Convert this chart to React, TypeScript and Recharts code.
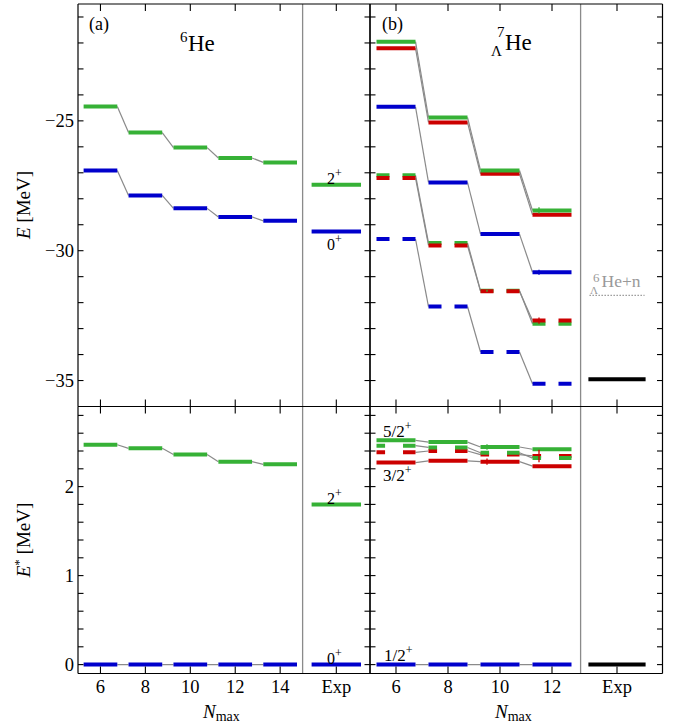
import React from "react";
import { LineChart, Line, XAxis, YAxis, ReferenceLine } from "recharts";

const W = 695;
const H = 724;
const FONT = "'Liberation Serif', 'Times New Roman', serif";

const GREEN = "#36b136";
const BLUE = "#0000cc";
const RED = "#cc0000";
const GRAY = "#8a8a8a";

// ---------------------------------------------------------------------------
// Data (MeV)
// ---------------------------------------------------------------------------

const NMAX_A = [6, 8, 10, 12, 14];
const NMAX_B = [6, 8, 10, 12];
const EXP_A = 16.5;
const EXP_B = 14.5;

// 6He total energies
const HE6_0P = [-26.91, -27.87, -28.37, -28.7, -28.85];
const HE6_2P = [-24.45, -25.45, -26.03, -26.43, -26.6];
const HE6_EXP_0P = -29.26;
const HE6_EXP_2P = -27.46;

// 6He excitation energies
const HE6_EX_0P = [0, 0, 0, 0, 0];
const HE6_EX_2P = [2.47, 2.43, 2.36, 2.28, 2.25];
const HE6_EXP_EX_0P = 0;
const HE6_EXP_EX_2P = 1.8;

// 7LHe total energies (solid / dashed sets)
const L7_12_S = [-24.46, -27.37, -29.36, -30.83];
const L7_12_D = [-29.55, -32.15, -33.9, -35.12];
const L7_52_S = [-21.95, -24.87, -26.91, -28.45];
const L7_32_S = [-22.2, -25.06, -27.04, -28.62];
const L7_52_D = [-27.09, -29.7, -31.54, -32.81];
const L7_32_D = [-27.2, -29.8, -31.56, -32.69];
const L7_EXP = -34.95;
const L7_THRESHOLD = -31.72;

// extrapolation uncertainties (0 = none)
const L7_UNC_12_S = [0, 0, 0, 0.1];
const L7_UNC_52_S = [0, 0, 0, 0.12];
const L7_UNC_32_D = [0, 0.05, 0, 0.12];
const L7_UNC_52_D = [0, 0, 0.04, 0];

// 7LHe excitation energies
const L7_EX_12 = [0, 0, 0, 0];
const L7_EX_52_S = [2.52, 2.5, 2.445, 2.42];
const L7_EX_52_D = [2.46, 2.44, 2.38, 2.32];
const L7_EX_32_D = [2.385, 2.4, 2.36, 2.345];
const L7_EX_32_S = [2.27, 2.29, 2.28, 2.23];
const L7_EX_EXP = 0;
const L7_EX_UNC_52_S = [0, 0, 0.03, 0];
const L7_EX_UNC_32_S = [0, 0, 0.035, 0];
const L7_EX_UNC_32_D = [0, 0, 0, 0.07];

// tick lists
const X_TICKS_A = [6, 8, 10, 12, 14, EXP_A];
const X_TICKS_B = [6, 8, 10, 12, EXP_B];
const Y_TICKS_TOP = [-35, -34, -33, -32, -31, -30, -29, -28, -27, -26, -25, -24, -23, -22, -21];
const Y_TICKS_BOT = [0, 0.2, 0.4, 0.6, 0.8, 1, 1.2, 1.4, 1.6, 1.8, 2, 2.2, 2.4, 2.6, 2.8];

// ---------------------------------------------------------------------------
// Helpers
// ---------------------------------------------------------------------------

const HW = 0.75; // half width of a calculated level
const HW_EXP = 1.1;

type Chain = { n: number[]; e: number[]; color: string; dashed?: boolean; unc?: number[] };
type Exp = { x: number; e: number; color: string; dash?: string; hw?: number; sw?: number };
type Box = { left: number; top: number; right: number; bottom: number };

const fmtY = (v: number) => (v < 0 ? "\u2212" + Math.abs(v) : String(v));

function renderTick(side: "left" | "right" | "top" | "bottom", len: number, label?: (v: number) => string | null) {
  return (props: any) => {
    const { x, y, payload } = props;
    const v = payload.value;
    let x2 = x;
    let y2 = y;
    if (side === "left") x2 = x + len;
    else if (side === "right") x2 = x - len;
    else if (side === "bottom") y2 = y - len;
    else y2 = y + len;
    const text = label ? label(v) : null;
    return (
      <g>
        <line x1={x} y1={y} x2={x2} y2={y2} stroke="#000" strokeWidth={1.1} />
        {text != null &&
          (side === "left" ? (
            <text x={x - 4} y={y + 6} textAnchor="end" fontFamily={FONT} fontSize={18.5} fill="#000">
              {text}
            </text>
          ) : (
            <text x={x} y={y + 19.5} textAnchor="middle" fontFamily={FONT} fontSize={18.5} fill="#000">
              {text}
            </text>
          ))}
      </g>
    );
  };
}

interface PanelProps {
  box: Box;
  xDomain: [number, number];
  yDomain: [number, number];
  xTicks: number[];
  yTicks: number[];
  xLabel?: (v: number) => string | null;
  yLabel?: (v: number) => string | null;
  divider: number;
  chains: Chain[];
  exps: Exp[];
  // pieces of a dashed level, as offsets from Nmax
  pieces: [number, number][];
}

const AXIS = { stroke: "#000", strokeWidth: 1.2 };

function Panel(p: PanelProps) {
  const margin = { left: p.box.left, top: p.box.top, right: W - p.box.right, bottom: H - p.box.bottom };
  const common = { type: "number" as const, allowDataOverflow: true, interval: 0 as const, mirror: true, tickLine: false, tickSize: 0, tickMargin: 0, axisLine: AXIS };
  const full: [number, number][] = [[-HW, HW]];
  return (
    <div style={{ position: "absolute", left: 0, top: 0 }}>
      <LineChart width={W} height={H} margin={margin}>
        <XAxis xAxisId="b" orientation="bottom" dataKey="x" domain={p.xDomain} ticks={p.xTicks} tick={renderTick("bottom", 7, p.xLabel)} {...common} />
        <XAxis xAxisId="t" orientation="top" dataKey="x" domain={p.xDomain} ticks={p.xTicks} tick={renderTick("top", 7)} {...common} />
        <YAxis yAxisId="l" orientation="left" domain={p.yDomain} ticks={p.yTicks} tick={renderTick("left", 5.5, p.yLabel)} {...common} />
        <YAxis yAxisId="r" orientation="right" domain={p.yDomain} ticks={p.yTicks} tick={renderTick("right", 5.5)} {...common} />
        <ReferenceLine xAxisId="b" yAxisId="l" x={p.divider} stroke={GRAY} strokeWidth={1.3} />
        {/* thin connectors from the end of one level to the start of the next */}
        {p.chains.flatMap((c, ci) =>
          c.n.slice(0, -1).map((n, i) => (
            <Line
              key={"c" + ci + "-" + i}
              xAxisId="b"
              yAxisId="l"
              data={[
                { x: n + HW, y: c.e[i] },
                { x: c.n[i + 1] - HW, y: c.e[i + 1] },
              ]}
              dataKey="y"
              stroke={GRAY}
              strokeWidth={1.2}
              dot={false}
              activeDot={false}
              isAnimationActive={false}
            />
          ))
        )}
        {p.chains.flatMap((c, ci) =>
          c.n.flatMap((n, i) =>
            (c.dashed ? p.pieces : full).map(([a, b], k) => (
              <Line
                key={"l" + ci + "-" + i + "-" + k}
                xAxisId="b"
                yAxisId="l"
                data={[
                  { x: n + a, y: c.e[i] },
                  { x: n + b, y: c.e[i] },
                ]}
                dataKey="y"
                stroke={c.color}
                strokeWidth={4}
                dot={false}
                activeDot={false}
                isAnimationActive={false}
              />
            ))
          )
        )}
        {p.chains.flatMap((c, ci) =>
          c.n
            .map((n, i) => ({ n, i }))
            .filter(({ i }) => c.unc && c.unc[i] > 0)
            .map(({ n, i }) => (
              <Line
                key={"u" + ci + "-" + i}
                xAxisId="b"
                yAxisId="l"
                data={[
                  { x: n - 0.5, y: c.e[i] - (c.unc as number[])[i] },
                  { x: n - 0.5, y: c.e[i] + (c.unc as number[])[i] },
                ]}
                dataKey="y"
                stroke={c.color}
                strokeWidth={1.3}
                dot={false}
                activeDot={false}
                isAnimationActive={false}
              />
            ))
        )}
        {p.exps.map((x, i) => (
          <Line
            key={"e" + i}
            xAxisId="b"
            yAxisId="l"
            data={[
              { x: x.x - (x.hw ?? HW_EXP), y: x.e },
              { x: x.x + (x.hw ?? HW_EXP), y: x.e },
            ]}
            dataKey="y"
            stroke={x.color}
            strokeWidth={x.sw ?? 4}
            strokeDasharray={x.dash}
            dot={false}
            activeDot={false}
            isAnimationActive={false}
          />
        ))}
      </LineChart>
    </div>
  );
}

function Annotations() {
  const sup = { fontSize: 12 };
  return (
    <svg width={W} height={H} style={{ position: "absolute", left: 0, top: 0, pointerEvents: "none" }} fontFamily={FONT} fill="#000">
      <text x={89} y={30} fontSize={18}>(a)</text>
      <text x={382} y={30} fontSize={18}>(b)</text>
      <text fontSize={23}>
        <tspan x={180} y={42} fontSize={15}>6</tspan>
        <tspan x={188} y={51}>He</tspan>
      </text>
      <text fontSize={23}>
        <tspan x={497} y={37} fontSize={15}>7</tspan>
        <tspan x={491} y={56} fontSize={15}>Λ</tspan>
        <tspan x={505} y={50}>He</tspan>
      </text>

      <text x={327} y={183.5} fontSize={16}>2<tspan {...sup} dy={-7}>+</tspan></text>
      <text x={327} y={250} fontSize={16}>0<tspan {...sup} dy={-7}>+</tspan></text>
      <text x={327} y={503.5} fontSize={16}>2<tspan {...sup} dy={-7}>+</tspan></text>
      <text x={327} y={663.5} fontSize={16}>0<tspan {...sup} dy={-7}>+</tspan></text>

      <text x={383} y={436.5} fontSize={17}>5/2<tspan {...sup} dy={-7}>+</tspan></text>
      <text x={383} y={480.5} fontSize={17}>3/2<tspan {...sup} dy={-7}>+</tspan></text>
      <text x={384} y={660.5} fontSize={17}>1/2<tspan {...sup} dy={-7}>+</tspan></text>

      <g fill="#999">
        <text x={593} y={281.7} fontSize={13}>6</text>
        <text x={590} y={294} fontSize={11}>Λ</text>
        <text x={601.5} y={286.7} fontSize={17.5}>He+n</text>
      </g>

      <text transform="translate(30,205) rotate(-90)" textAnchor="middle" fontSize={19}>
        <tspan fontStyle="italic">E</tspan> [MeV]
      </text>
      <text transform="translate(30,540) rotate(-90)" textAnchor="middle" fontSize={19}>
        <tspan fontStyle="italic">E</tspan>
        <tspan fontSize={13} dy={-7}>*</tspan>
        <tspan dy={7}> [MeV]</tspan>
      </text>

      <text x={203} y={717.5} fontSize={19}>
        <tspan fontStyle="italic">N</tspan>
        <tspan fontSize={14} dy={3}>max</tspan>
      </text>
      <text x={495} y={717.5} fontSize={19}>
        <tspan fontStyle="italic">N</tspan>
        <tspan fontSize={14} dy={3}>max</tspan>
      </text>
    </svg>
  );
}

export default function App() {
  const boxATop: Box = { left: 78, top: 4, right: 370, bottom: 406.5 };
  const boxBTop: Box = { left: 370, top: 4, right: 662.5, bottom: 406.5 };
  const boxABot: Box = { left: 78, top: 406.5, right: 370, bottom: 673.5 };
  const boxBBot: Box = { left: 370, top: 406.5, right: 662.5, bottom: 673.5 };
  const xLabA = (v: number) => (v === EXP_A ? "Exp" : String(v));
  const xLabB = (v: number) => (v === EXP_B ? "Exp" : String(v));
  const yLabTop = (v: number) => (v % 5 === 0 ? fmtY(v) : null);
  const yLabBot = (v: number) => (Number.isInteger(v) ? fmtY(v) : null);

  return (
    <div style={{ position: "absolute", left: 0, top: 0, width: W, height: H, background: "#fff" }}>
      <Panel
        box={boxATop}
        xDomain={[5, 18]}
        yDomain={[-36, -20.5]}
        xTicks={X_TICKS_A}
        yTicks={Y_TICKS_TOP}
        yLabel={yLabTop}
        divider={15}
        pieces={[[-0.75, -0.25], [0.25, 0.75]]}
        chains={[
          { n: NMAX_A, e: HE6_2P, color: GREEN },
          { n: NMAX_A, e: HE6_0P, color: BLUE },
        ]}
        exps={[
          { x: EXP_A, e: HE6_EXP_2P, color: GREEN },
          { x: EXP_A, e: HE6_EXP_0P, color: BLUE },
        ]}
      />
      <Panel
        box={boxBTop}
        xDomain={[5, 16.25]}
        yDomain={[-36, -20.5]}
        xTicks={X_TICKS_B}
        yTicks={Y_TICKS_TOP}
        divider={13.1}
        pieces={[[-0.75, -0.25], [0.25, 0.75]]}
        chains={[
          { n: NMAX_B, e: L7_12_S, color: BLUE, unc: L7_UNC_12_S },
          { n: NMAX_B, e: L7_12_D, color: BLUE, dashed: true },
          { n: NMAX_B, e: L7_32_S, color: RED },
          { n: NMAX_B, e: L7_52_S, color: GREEN, unc: L7_UNC_52_S },
          { n: NMAX_B, e: L7_52_D, color: GREEN, dashed: true, unc: L7_UNC_52_D },
          { n: NMAX_B, e: L7_32_D, color: RED, dashed: true, unc: L7_UNC_32_D },
        ]}
        exps={[
          { x: EXP_B, e: L7_THRESHOLD, color: "#999", dash: "1.5 1.5", sw: 1.3, hw: 1.06 },
          { x: EXP_B, e: L7_EXP, color: "#000" },
        ]}
      />
      <Panel
        box={boxABot}
        xDomain={[5, 18]}
        yDomain={[-0.1, 2.9]}
        xTicks={X_TICKS_A}
        yTicks={Y_TICKS_BOT}
        xLabel={xLabA}
        yLabel={yLabBot}
        divider={15}
        pieces={[[-0.75, -0.25], [0.25, 0.75]]}
        chains={[
          { n: NMAX_A, e: HE6_EX_2P, color: GREEN },
          { n: NMAX_A, e: HE6_EX_0P, color: BLUE },
        ]}
        exps={[
          { x: EXP_A, e: HE6_EXP_EX_2P, color: GREEN },
          { x: EXP_A, e: HE6_EXP_EX_0P, color: BLUE },
        ]}
      />
      <Panel
        box={boxBBot}
        xDomain={[5, 16.25]}
        yDomain={[-0.1, 2.9]}
        xTicks={X_TICKS_B}
        yTicks={Y_TICKS_BOT}
        xLabel={xLabB}
        divider={13.1}
        pieces={[[-0.75, -0.42], [0.27, 0.75]]}
        chains={[
          { n: NMAX_B, e: L7_EX_12, color: BLUE },
          { n: NMAX_B, e: L7_EX_32_S, color: RED, unc: L7_EX_UNC_32_S },
          { n: NMAX_B, e: L7_EX_32_D, color: RED, dashed: true, unc: L7_EX_UNC_32_D },
          { n: NMAX_B, e: L7_EX_52_D, color: GREEN, dashed: true },
          { n: NMAX_B, e: L7_EX_52_S, color: GREEN, unc: L7_EX_UNC_52_S },
        ]}
        exps={[{ x: EXP_B, e: L7_EX_EXP, color: "#000" }]}
      />
      <Annotations />
    </div>
  );
}
